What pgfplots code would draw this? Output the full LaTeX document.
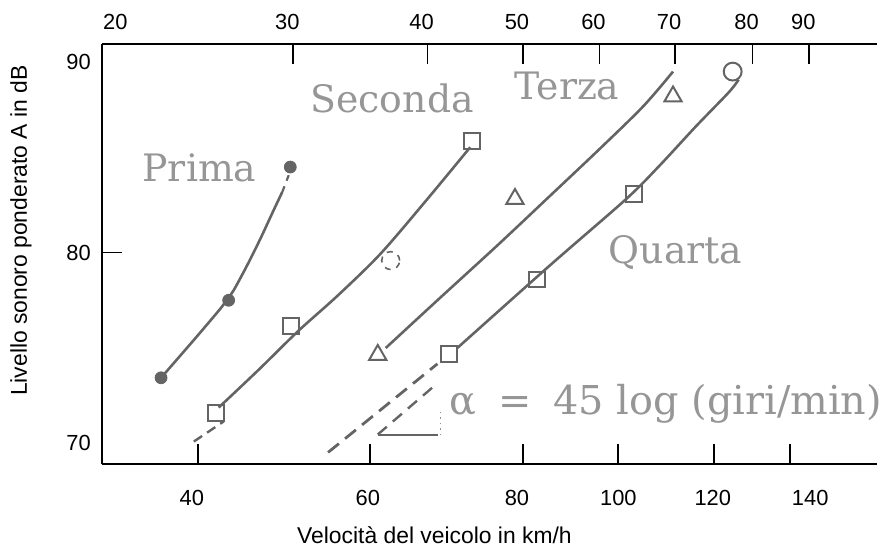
\documentclass[border=0pt]{standalone}
\usepackage{pgfplots}
\pgfplotsset{compat=1.18}
\usepackage{fontspec}
\setmainfont{Liberation Sans}
\newfontfamily\serifa{DejaVu Serif}
\definecolor{curve}{RGB}{100,100,100}
\definecolor{lab}{RGB}{150,150,150}
\begin{document}
\begin{tikzpicture}
\path (-51.5pt,-41.5pt) rectangle (389.5pt,233.5pt);
\begin{axis}[
 at={(0,0)}, anchor=south west,
 scale only axis, width=389.5pt, height=211.5pt,
 xmin=103, xmax=882, ymin=68.91, ymax=90.94,
 axis x line=bottom, axis y line=left,
 axis line style={-, line width=0.9pt, black},
 xtick align=inside, ytick align=inside,
 major tick length=10pt,
 tick style={line width=0.9pt, black},
 xtick={199,372,526,622,718,795}, xticklabels={},
 extra x ticks={193,370,520,622,717,815},
 extra x tick labels={40,60,80,100,120,140},
 extra x tick style={major tick length=0pt},
 ytick={80}, yticklabels={},
 extra y ticks={70,80,90}, extra y tick labels={70,80,90},
 extra y tick style={major tick length=0pt},
 tick label style={font=\fontsize{11}{13}\selectfont},
 xticklabel style={yshift=-9.3pt},
 yticklabel style={xshift=-2.3pt},
 clip=false,
]
% Prima
\addplot[curve, line width=1.3pt, smooth, tension=0.3] table {
162 73.44
195 75.42
222 77.08
235 78.02
248 79.27
262 80.73
275 82.19
284 83.18
};
\addplot[curve, line width=1.1pt, dashed] table {
284 83.18
292 84.27
};
\addplot[only marks, mark=*, mark size=3pt, curve, fill=curve] table {
162 73.44
230 77.50
292 84.48
};
% Seconda
\addplot[curve, line width=1.3pt, smooth, tension=0.5] table {
220 71.88
260 73.85
300 75.89
340 77.76
383 79.95
430 82.81
473 85.52
};
\addplot[curve, line width=1.2pt, dash pattern=on 5pt off 3pt] table {
195 70.10
225 71.15
};
\addplot[only marks, mark=square, mark size=4pt, curve, line width=1pt] table {
217 71.61
293 76.15
475 85.83
};
\addplot[only marks, mark=o, mark size=4.5pt, curve, line width=0.8pt, dashed] table {
393 79.58
};
% Terza
\addplot[curve, line width=1.3pt, smooth, tension=0.5] table {
388 75.00
440 77.50
500 80.36
550 82.81
603 85.42
647 87.66
677 89.48
};
\addplot[only marks, mark=triangle, mark size=5pt, curve, line width=1pt] table {
380 74.64
518 82.81
677 88.18
};
% Quarta
\addplot[curve, line width=1.3pt, smooth, tension=0.5] table {
460 75.00
553 79.32
630 82.81
663 84.53
700 86.61
733 88.39
743 89.06
};
\addplot[only marks, mark=square, mark size=4pt, curve, line width=1pt] table {
452 74.69
540 78.59
638 83.07
};
\addplot[only marks, mark=o, mark size=4.5pt, curve, line width=1pt] table {
737 89.48
};
% dashed extension and slope triangle
\addplot[curve, line width=1.4pt, dash pattern=on 7pt off 4pt] table {
330 69.53
440 74.17
};
\addplot[curve, line width=1.2pt, dash pattern=on 6pt off 4pt] table {
380 70.47
437 73.02
};
\addplot[curve, line width=1pt] table {
380 70.42
441 70.42
};
\addplot[curve!70, line width=0.8pt, dotted] table {
443 70.42
443 71.77
};
% labels
\node[anchor=base west, inner sep=0, text=lab, font=\serifa\fontsize{19}{22}\selectfont] at (axis cs:143,83.70) {Prima};
\node[anchor=base west, inner sep=0, text=lab, font=\serifa\fontsize{19}{22}\selectfont] at (axis cs:312,87.34) {Seconda};
\node[anchor=base west, inner sep=0, text=lab, font=\serifa\fontsize{19}{22}\selectfont] at (axis cs:517,88.02) {Terza};
\node[anchor=base west, inner sep=0, text=lab, font=\serifa\fontsize{19}{22}\selectfont] at (axis cs:612,79.43) {Quarta};
\node[anchor=base west, inner sep=0, text=lab, font=\serifa\fontsize{20}{24}\selectfont] at (axis cs:452,71.51) {α\hspace{0.55em}=\hspace{0.55em}45 log (giri/min)};
\node[rotate=90, font=\fontsize{11.5}{14}\selectfont] at (axis cs:21,81.15) {Livello sonoro ponderato A in dB};
\node[anchor=base, inner sep=0, font=\fontsize{11.5}{14}\selectfont] at (axis cs:437,64.74) {Velocità del veicolo in km/h};
\end{axis}
\begin{axis}[
 at={(0,0)}, anchor=south west,
 scale only axis, width=389.5pt, height=211.5pt,
 xmin=103, xmax=882, ymin=68.91, ymax=90.94,
 axis x line=top, axis y line=none,
 axis line style={-, line width=0.9pt, black},
 xtick align=inside, major tick length=10pt,
 tick style={line width=0.9pt, black},
 xtick={295,430,526,603,679,757,814},
 xticklabels={30,40,50,60,70,80,90},
 extra x ticks={122}, extra x tick labels={20},
 extra x tick style={major tick length=0pt},
 tick label style={font=\fontsize{11}{13}\selectfont},
 xticklabel style={xshift=-3pt, yshift=3.3pt},
]
\addplot[draw=none] coordinates {(500,80)};
\end{axis}
\end{tikzpicture}
\end{document}
